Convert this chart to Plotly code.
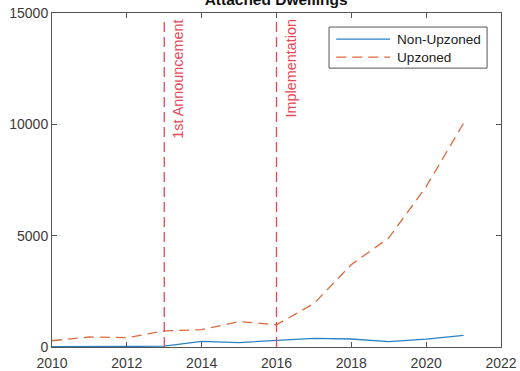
import plotly.graph_objects as go

years = list(range(2010, 2022))
non_upzoned = [20, 15, 25, 40, 250, 200, 280, 390, 360, 240, 350, 525]
upzoned = [280, 450, 420, 720, 780, 1140, 1000, 1950, 3700, 4900, 7200, 10050]

series_names = ["Non-Upzoned", "Upzoned"]
series_colors = ["#2a82c6", "#dc6a3e"]
series_dash = ["solid", "10px,6px"]

event_years = [2013, 2016]
event_labels = ["1st Announcement", "Implementation"]

x_ticks = [2010, 2012, 2014, 2016, 2018, 2020, 2022]
y_ticks = [0, 5000, 10000, 15000]
y_tick_text = ["0", "5000", "10000", "15000"]

FONT = "Liberation Sans, Arial, Helvetica, sans-serif"
AXIS = "#555555"
EVENT = "#ea4656"
TICK_FONT = dict(family=FONT, size=14, color="#3a3a3a")

fig = go.Figure()
for vals, name, col, dash in zip([non_upzoned, upzoned], series_names, series_colors, series_dash):
    fig.add_trace(go.Scatter(x=years, y=vals, mode="lines", name=name, showlegend=False,
                             line=dict(color=col, width=1.3, dash=dash)))

for yr, lab in zip(event_years, event_labels):
    fig.add_shape(type="line", x0=yr, x1=yr, y0=0, y1=14780, xref="x", yref="y",
                  line=dict(color=EVENT, width=1.3, dash="10px,5px"), layer="above")
    fig.add_annotation(x=yr, y=14780, xref="x", yref="y", text=lab, textangle=-90,
                       showarrow=False, xanchor="center", yanchor="top", xshift=14,
                       font=dict(family=FONT, size=14.4, color=EVENT))

# Boxed legend in the upper-right corner of the axes
fig.add_shape(type="rect", xref="paper", yref="paper", x0=0.617, x1=0.969, y0=0.835, y1=0.958,
              line=dict(color=AXIS, width=1), fillcolor="white", layer="above")
for i, (name, col, dash) in enumerate(zip(series_names, series_colors, series_dash)):
    yy = 0.922 - i * 0.054
    fig.add_shape(type="line", xref="paper", yref="paper", x0=0.633, x1=0.753, y0=yy, y1=yy,
                  line=dict(color=col, width=1.3, dash=dash), layer="above")
    fig.add_annotation(xref="paper", yref="paper", x=0.764, y=yy, text=name, showarrow=False,
                       xanchor="left", yanchor="middle",
                       font=dict(family=FONT, size=13.6, color="#222222"))

fig.update_layout(
    width=520, height=371,
    margin=dict(l=52, r=19, t=13, b=24),
    paper_bgcolor="white", plot_bgcolor="white",
    font=dict(family=FONT, size=13, color="#333333"),
    title=dict(text="<b>Attached Dwellings</b>", x=0.531, xanchor="center",
               y=1.0, yanchor="middle", yref="container",
               font=dict(family=FONT, size=15.5, color="#111111"), automargin=False),
    showlegend=False,
    xaxis=dict(range=[2010, 2022], tickvals=x_ticks, ticks="inside", ticklen=5,
               tickcolor=AXIS, showline=True, linecolor=AXIS, linewidth=1, mirror="ticks",
               showgrid=False, zeroline=False, tickfont=TICK_FONT, automargin=False,
               ticklabelstandoff=3),
    yaxis=dict(range=[0, 15000], tickvals=y_ticks, ticktext=y_tick_text, ticks="inside",
               ticklen=5, tickcolor=AXIS, showline=True, linecolor=AXIS, linewidth=1,
               mirror="ticks", showgrid=False, zeroline=False, tickfont=TICK_FONT,
               automargin=False),
)

fig.write_html("out.html")
